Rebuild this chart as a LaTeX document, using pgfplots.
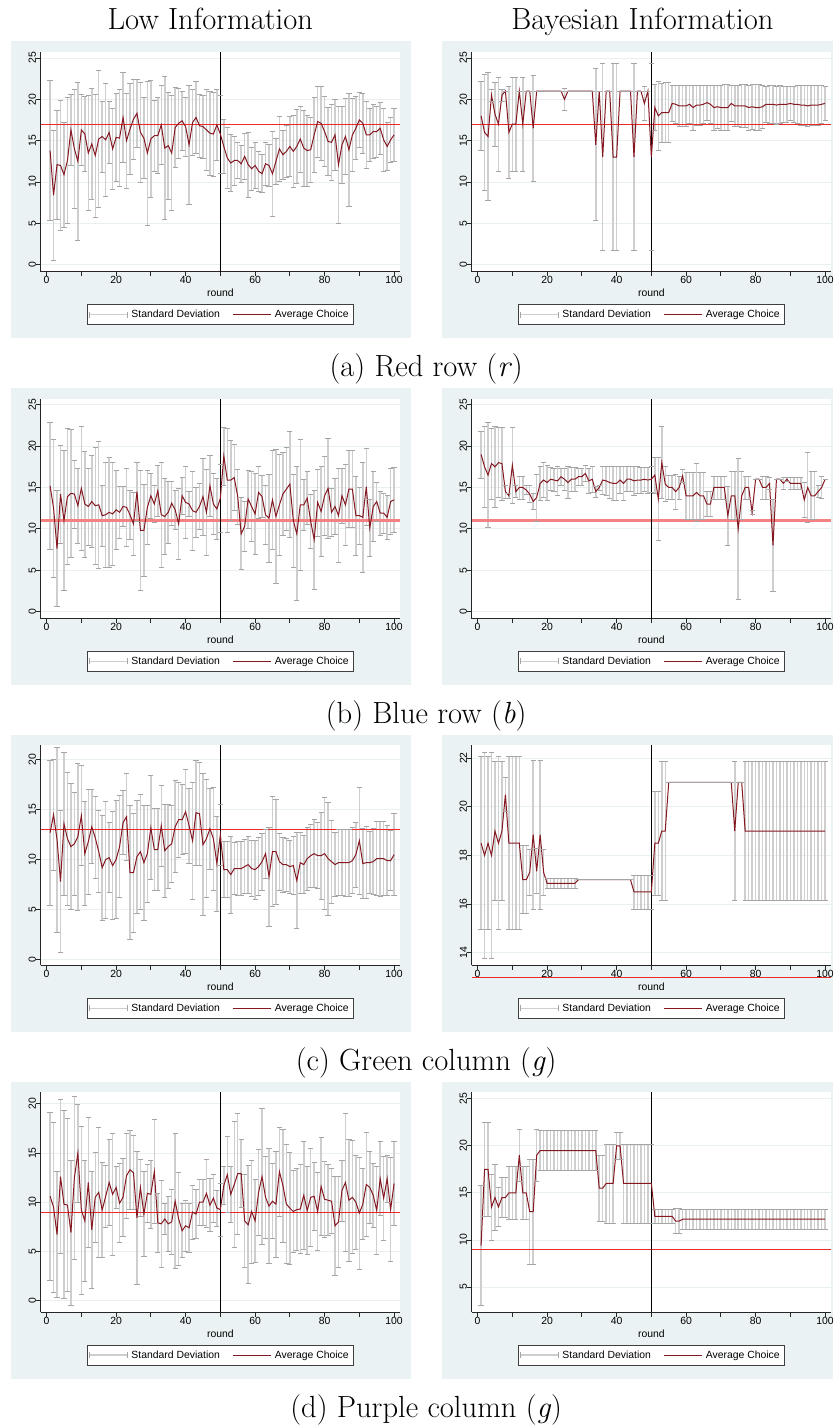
\documentclass[border=0pt]{standalone}
\usepackage{fontspec}
\setmainfont{Latin Modern Roman}
\newfontfamily\sansf{Liberation Sans}
\usepackage{pgfplots}
\usepackage{pgfplotstable}
\pgfplotsset{compat=1.18}
\definecolor{panelbg}{RGB}{234,242,243}
\definecolor{gridc}{RGB}{232,240,242}
\definecolor{sdgray}{RGB}{206,206,206}
\definecolor{capgray}{RGB}{165,165,165}
\definecolor{refred}{RGB}{238,40,40}
\definecolor{refpink}{RGB}{244,130,130}
\definecolor{meanred}{RGB}{134,24,34}

\pgfplotstableread{
r m s
1 13.8 8.5
2 8.4 7.85
3 12.1 6.6
4 12.0 7.85
5 10.9 6.35
6 12.6 7.65
7 16.3 4.3
8 14.0 7.15
9 12.5 9.5
10 16.3 4.3
11 15.8 4.55
12 13.5 6.95
13 14.6 6.75
14 13.2 7.45
15 15.2 8.3
16 15.5 4.3
17 15.1 6.85
18 16.0 3.8
19 14.0 4.95
20 15.4 5.35
21 15.3 5.85
22 17.8 5.4
23 15.0 5.75
24 16.4 5.5
25 17.6 4.85
26 18.3 4.1
27 16.0 6.0
28 15.3 4.9
29 13.5 8.7
30 15.2 7.1
31 15.6 4.3
32 15.6 4.6
33 16.9 4.8
34 14.1 8.65
35 14.4 6.5
36 13.5 6.95
37 16.6 4.85
38 17.1 4.25
39 17.4 3.55
40 16.7 3.55
41 14.5 7.2
42 17.2 3.95
43 17.8 4.35
44 16.8 3.85
45 16.7 3.8
46 16.3 4.95
47 15.9 5.05
48 15.8 5.1
49 16.9 4.3
50 15.8 4.7
51 14.3 3.3
52 12.9 3.65
53 12.3 3.45
54 12.6 2.95
55 12.6 2.2
56 12.2 2.25
57 13.1 2.8
58 12.1 3.95
59 11.6 2.6
60 12.0 2.8
61 11.3 2.4
62 11.0 2.3
63 12.2 2.6
64 12.0 2.5
65 11.0 5.1
66 12.5 2.8
67 14.0 3.9
68 13.3 3.0
69 13.7 3.2
70 14.3 3.6
71 13.7 4.4
72 14.3 4.5
73 15.2 4.0
74 14.1 4.6
75 13.8 4.3
76 13.9 3.9
77 15.7 4.5
78 17.3 4.3
79 17.1 4.5
80 16.1 4.2
81 14.9 4.1
82 14.8 4.6
83 15.7 4.3
84 12.1 7.1
85 14.5 4.7
86 15.5 4.6
87 13.9 6.8
88 15.7 4.4
89 16.5 3.8
90 17.5 3.3
91 17.1 3.6
92 15.7 4.0
93 15.7 3.2
94 16.1 3.3
95 16.1 3.1
96 16.5 3.1
97 15.1 3.8
98 14.3 2.9
99 15.1 2.7
100 15.7 3.2
}\dataAL

\pgfplotstableread{
r m s
1 18.0 4.2
2 16.0 7.0
3 15.5 7.75
4 20.5 0.7
5 18.2 3.85
6 17.0 5.7
7 20.5 0.7
8 21.0 0
9 16.0 5.6
10 17.0 5.7
11 17.0 5.7
12 21.0 0
13 17.0 5.7
14 21.0 0
15 21.0 0
16 16.5 6.4
17 21 0
18 21 0
19 21 0
20 21 0
21 21 0
22 21 0
23 21 0
24 21 0
25 20.0 1.3
26 21 0
27 21 0
28 21 0
29 21 0
30 21 0
31 21 0
32 21 0
33 21 0
34 14.5 9.2
35 21 0
36 13.0 11.3
37 21 0
38 21 0
39 13.0 11.3
40 13.0 11.3
41 21 0
42 21 0
43 21 0
44 21 0
45 13.0 11.3
46 21 0
47 21 0
48 19.5 2.1
49 21 0
50 13.0 11.3
51 19.0 2.8
52 18.0 4.15
53 18.4 3.55
54 18.4 3.6
55 18.4 3.6
56 19.5 2.2
57 19.4 2.3
58 19.2 2.5
59 19.2 2.5
60 19.2 2.5
61 19.4 2.3
62 19.0 2.7
63 19.3 2.4
64 19.3 2.4
65 19.4 2.3
66 19.6 2.1
67 19.4 2.3
68 19.0 2.7
69 19.1 2.6
70 19.0 2.7
71 19.0 2.8
72 19.0 2.8
73 19.5 2.2
74 19.2 2.5
75 19.2 2.5
76 19.2 2.6
77 19.2 2.6
78 19.0 2.7
79 19.1 2.7
80 19.0 2.8
81 19.0 2.8
82 19.1 2.6
83 19.4 2.2
84 19.4 2.3
85 19.4 2.3
86 19.3 2.3
87 19.4 2.3
88 19.4 2.2
89 19.4 2.2
90 19.5 2.1
91 19.4 2.2
92 19.4 2.3
93 19.3 2.4
94 19.3 2.4
95 19.2 2.5
96 19.3 2.4
97 19.3 2.4
98 19.3 2.4
99 19.4 2.3
100 19.5 2.1
}\dataAR

\pgfplotstableread{
r m s
1 15.2 7.65
2 12.5 8.35
3 7.6 7.0
4 14.2 5.95
5 11.0 8.5
6 13.9 8.25
7 14.3 7.75
8 14.2 4.1
9 12.8 4.5
10 14.9 7.5
11 13.0 6.4
12 12.7 4.65
13 13.3 5.6
14 12.8 7.1
15 12.9 7.7
16 11.6 3.7
17 11.7 6.4
18 12.0 6.7
19 11.8 6.25
20 12.3 4.75
21 12.0 3.1
22 12.7 2.45
23 12.6 4.75
24 11.7 2.95
25 10.6 3.8
26 14.5 3.55
27 9.8 7.25
28 9.8 5.6
29 12.6 4.45
30 14.0 2.7
31 13.0 2.2
32 14.6 3.05
33 11.7 6.4
34 11.5 4.55
35 12.0 3.75
36 13.1 2.7
37 12.3 2.4
38 10.6 4.3
39 14.0 2.2
40 13.2 4.4
41 13.0 1.5
42 12.2 4.8
43 12.0 3.05
44 12.7 2.75
45 13.9 4.65
46 12.0 5.25
47 15.2 3.65
48 13.0 3.7
49 12.4 3.7
50 13.7 4.1
51 18.8 3.5
52 15.9 6.3
53 15.9 4.85
54 16.2 4.0
55 13.9 3.35
56 9.4 4.35
57 10.3 3.05
58 13.6 3.5
59 12.7 4.25
60 11.8 4.9
61 14.4 3.15
62 13.9 2.55
63 11.7 3.6
64 11.3 5.35
65 13.5 6.0
66 11.5 8.1
67 12.9 6.1
68 14.2 5.0
69 14.8 5.0
70 15.4 6.45
71 11.0 5.6
72 9.4 8.1
73 12.9 7.9
74 12.9 3.05
75 13.7 3.2
76 10.9 3.25
77 8.7 6.0
78 13.2 4.05
79 12.1 5.45
80 14.0 4.75
81 14.9 6.0
82 12.0 2.9
83 12.7 3.4
84 11.6 5.7
85 14.0 3.3
86 12.9 4.9
87 14.8 4.65
88 14.8 4.65
89 11.6 4.75
90 11.6 3.45
91 11.4 6.7
92 15.1 4.65
93 10.1 3.45
94 12.7 4.2
95 13.3 2.35
96 11.9 2.65
97 11.9 2.45
98 11.4 2.7
99 13.3 4.0
100 13.5 3.95
}\dataBL

\pgfplotstableread{
r m s
1 19.0 2.85
2 17.5 4.95
3 16.5 6.35
4 17.9 4.3
5 17.5 4.95
6 18.0 4.25
7 17.9 4.4
8 14.5 0.8
9 14.0 0.3
10 17.7 4.6
11 14.5 0.7
12 15.0 1.4
13 15.0 1.4
14 14.7 0.5
15 14.2 1.0
16 13.3 1.0
17 13.8 2.85
18 15.5 2.1
19 15.9 2.1
20 15.6 2.1
21 16.0 1.4
22 15.9 1.4
23 15.8 1.7
24 16.3 1.0
25 16.0 1.35
26 15.6 1.95
27 16.0 1.45
28 16.0 1.45
29 16.3 1.05
30 16.3 1.0
31 16.7 0.95
32 15.8 1.55
33 16.0 1.6
34 14.5 0.65
35 15.0 0.3
36 15.9 1.7
37 15.8 1.8
38 15.6 1.95
39 15.5 2.1
40 15.5 2.1
41 15.9 1.65
42 15.5 2.1
43 16.0 1.5
44 16.0 1.5
45 15.8 1.7
46 15.9 1.65
47 15.9 1.55
48 16.0 1.45
49 15.9 1.55
50 16.0 1.6
51 16.5 2.15
52 13.6 5.05
53 18.0 4.35
54 15.4 2.1
55 15.0 1.45
56 15.0 1.45
57 14.5 2.1
58 15.0 1.4
59 16.4 0.8
60 14.0 2.85
61 14.0 2.85
62 14.0 2.8
63 14.4 3.55
64 14.0 2.8
65 14.0 2.8
66 13.0 1.5
67 13.0 1.5
68 15.0 1.4
69 15.0 1.4
70 15.0 1.4
71 15.0 1.4
72 11.6 3.55
73 14.0 2.9
74 14.0 2.9
75 10.0 8.5
76 14.0 2.9
77 15.0 1.4
78 15.0 1.4
79 12.0 0.25
80 16.0 0
81 16.0 0
82 15.0 1.4
83 15.0 1.4
84 15.5 0.7
85 8.0 5.6
86 16.0 0
87 16.0 0
88 15.5 0.7
89 16.0 0.2
90 15.5 0.7
91 15.5 0.7
92 15.5 0.7
93 15.5 0.7
94 13.5 2.1
95 15.0 4.25
96 14.0 2.9
97 14.0 2.9
98 14.5 0.75
99 15.0 1.35
100 16.0 0
}\dataBR

\pgfplotstableread{
r m s
1 12.7 7.3
2 14.5 5.55
3 12.0 9.25
4 7.8 7.1
5 13.6 7.2
6 12.1 6.65
7 11.3 6.3
8 11.6 5.15
9 12.3 7.35
10 14.4 5.0
11 10.6 5.2
12 11.8 5.25
13 13.3 3.7
14 12.2 4.1
15 10.8 4.1
16 9.2 5.25
17 10.0 5.85
18 10.2 3.5
19 9.4 5.4
20 10.0 5.9
21 11.3 5.1
22 13.7 3.2
23 14.3 4.35
24 8.7 6.7
25 8.7 5.95
26 10.3 5.65
27 10.8 5.75
28 9.7 5.75
29 10.6 4.85
30 13.2 5.2
31 11.0 4.1
32 11.0 4.1
33 13.4 4.05
34 10.9 4.65
35 11.3 4.2
36 11.6 3.85
37 13.3 4.6
38 14.0 3.75
39 14.0 3.5
40 14.8 4.2
41 13.4 3.75
42 11.9 5.85
43 14.7 5.25
44 14.6 5.2
45 11.5 7.1
46 12.1 5.9
47 13.1 4.05
48 12.1 5.15
49 9.6 4.75
50 12.5 3.05
51 9.0 2.8
52 9.0 2.8
53 8.5 3.85
54 9.1 2.6
55 9.1 2.7
56 9.1 2.7
57 9.3 2.7
58 9.5 2.85
59 9.1 2.8
60 9.0 2.95
61 9.3 2.9
62 9.8 2.85
63 10.6 2.45
64 8.3 4.95
65 10.8 5.5
66 10.8 5.25
67 9.8 2.85
68 9.5 2.75
69 9.5 2.65
70 9.3 2.65
71 9.4 2.9
72 7.9 4.8
73 9.7 3.05
74 9.5 2.9
75 10.1 3.15
76 10.4 3.15
77 10.6 3.4
78 10.4 3.3
79 10.4 4.35
80 10.6 5.6
81 10.1 5.65
82 9.8 4.15
83 9.5 3.2
84 9.7 3.3
85 9.7 3.3
86 9.7 3.35
87 9.7 3.35
88 9.9 3.3
89 10.5 3.25
90 11.9 5.35
91 9.6 3.5
92 9.7 3.6
93 9.7 3.1
94 9.8 3.3
95 10.1 3.7
96 10.1 3.75
97 10.1 3.7
98 9.9 3.5
99 9.9 3.0
100 10.5 4.1
}\dataCL

\pgfplotstableread{
r m s
1 18.5 3.55
2 18.0 4.25
3 18.5 3.55
4 18.0 4.25
5 19.0 2.85
6 18.5 3.55
7 19.0 2.85
8 20.5 0.7
9 18.5 3.55
10 18.5 3.55
11 18.5 3.55
12 18.5 3.55
13 17.0 1.4
14 17.0 1.4
15 17.3 0.93
16 18.85 3.05
17 17.35 0.93
18 18.85 3.05
19 17.3 0.93
20 16.85 0.2
21 16.85 0.2
22 16.85 0.2
23 16.85 0.2
24 16.85 0.2
25 16.85 0.2
26 16.85 0.2
27 16.85 0.2
28 16.85 0.2
29 17 0
30 17 0
31 17 0
32 17 0
33 17 0
34 17 0
35 17 0
36 17 0
37 17 0
38 17 0
39 17 0
40 17 0
41 17 0
42 17 0
43 17 0
44 17 0
45 16.5 0.7
46 16.5 0.7
47 16.5 0.7
48 16.5 0.7
49 16.5 0.7
50 16.5 0.7
51 18.5 2.15
52 18.5 2.15
53 19.0 2.85
54 19.0 2.85
55 21 0
56 21 0
57 21 0
58 21 0
59 21 0
60 21 0
61 21 0
62 21 0
63 21 0
64 21 0
65 21 0
66 21 0
67 21 0
68 21 0
69 21 0
70 21 0
71 21 0
72 21 0
73 21 0
74 19.0 2.85
75 21 0
76 21 0
77 19 2.85
78 19 2.85
79 19 2.85
80 19 2.85
81 19 2.85
82 19 2.85
83 19 2.85
84 19 2.85
85 19 2.85
86 19 2.85
87 19 2.85
88 19 2.85
89 19 2.85
90 19 2.85
91 19 2.85
92 19 2.85
93 19 2.85
94 19 2.85
95 19 2.85
96 19 2.85
97 19 2.85
98 19 2.85
99 19 2.85
100 19 2.85
}\dataCR

\pgfplotstableread{
r m s
1 10.6 8.5
2 9.5 8.65
3 6.7 6.4
4 12.6 7.85
5 9.8 9.55
6 9.7 8.8
7 6.9 7.4
8 12.5 8.3
9 15.0 5.0
10 9.2 8.55
11 8.1 6.15
12 12.0 6.6
13 7.2 5.95
14 10.5 4.6
15 11.0 6.6
16 9.2 4.85
17 10.6 3.15
18 12.0 4.35
19 10.8 6.2
20 11.5 2.15
21 9.9 4.0
22 10.5 4.0
23 12.7 4.3
24 13.3 4.05
25 13.0 3.75
26 8.4 6.8
27 11.5 2.9
28 8.8 4.3
29 10.9 2.95
30 10.8 3.45
31 13.1 5.3
32 7.9 3.05
33 7.8 4.45
34 8.3 1.55
35 7.8 2.75
36 8.0 3.35
37 10.1 6.85
38 8.3 4.75
39 7.1 2.75
40 7.6 2.55
41 7.4 2.45
42 9.0 2.75
43 8.8 2.5
44 10.0 2.35
45 10.0 2.35
46 10.9 3.5
47 9.7 2.7
48 10.4 2.4
49 9.4 1.85
50 9.25 2.7
51 11.7 1.9
52 12.8 3.85
53 10.8 2.85
54 11.8 6.4
55 12.9 6.15
56 12.9 3.45
57 8.1 4.75
58 7.7 6.0
59 9.05 5.25
60 8.1 4.25
61 11.0 4.4
62 12.6 6.9
63 10.5 4.15
64 9.6 5.85
65 10.1 3.8
66 9.8 5.4
67 13.1 4.55
68 11.7 5.75
69 9.8 6.05
70 9.4 5.7
71 9.05 4.2
72 9.25 4.15
73 9.3 4.5
74 10.7 5.45
75 9.15 4.45
76 10.5 4.95
77 10.6 3.5
78 9.05 3.95
79 11.6 5.0
80 10.3 3.9
81 10.2 3.6
82 10.1 3.3
83 7.6 5.05
84 8.0 4.65
85 11.2 3.1
86 12.0 7.0
87 10.2 6.2
88 10.5 5.75
89 10.0 4.8
90 8.9 5.7
91 9.8 3.6
92 11.8 5.3
93 11.5 3.65
94 10.7 3.25
95 9.15 4.5
96 12.4 3.75
97 10.4 4.25
98 12.4 2.4
99 9.25 5.3
100 11.9 4.3
}\dataDL

\pgfplotstableread{
r m s
1 9.4 6.35
2 17.5 4.95
3 17.5 4.95
4 13.5 3.5
5 14.5 3.5
6 13.5 2.1
7 14.5 2.15
8 14.5 2.15
9 15.0 2.8
10 15.0 2.8
11 15.0 2.8
12 19.0 2.8
13 15.0 2.8
14 15.0 2.8
15 13.0 5.6
16 13.0 5.6
17 19.0 2.8
18 19.5 2.1
19 19.5 2.1
20 19.5 2.1
21 19.5 2.1
22 19.5 2.1
23 19.5 2.1
24 19.5 2.1
25 19.5 2.1
26 19.5 2.1
27 19.5 2.1
28 19.5 2.1
29 19.5 2.1
30 19.5 2.1
31 19.5 2.1
32 19.5 2.1
33 19.5 2.1
34 19.5 2.1
35 15.5 3.5
36 15.5 3.5
37 16.0 4.2
38 16.0 4.2
39 16.0 4.2
40 20.0 1.4
41 20.0 1.4
42 16.0 4.2
43 16.0 4.2
44 16.0 4.2
45 16.0 4.2
46 16.0 4.2
47 16.0 4.2
48 16.0 4.2
49 16.0 4.2
50 16.0 4.2
51 12.5 0.7
52 12.5 0.7
53 12.5 0.7
54 12.5 0.7
55 12.5 0.7
56 12.5 0.7
57 12.0 1.35
58 12.0 1.35
59 12.2 1.05
60 12.2 1.05
61 12.2 1.05
62 12.2 1.05
63 12.2 1.05
64 12.2 1.05
65 12.2 1.05
66 12.2 1.05
67 12.2 1.05
68 12.2 1.05
69 12.2 1.05
70 12.2 1.05
71 12.2 1.05
72 12.2 1.05
73 12.2 1.05
74 12.2 1.05
75 12.2 1.05
76 12.2 1.05
77 12.2 1.05
78 12.2 1.05
79 12.2 1.05
80 12.2 1.05
81 12.2 1.05
82 12.2 1.05
83 12.2 1.05
84 12.2 1.05
85 12.2 1.05
86 12.2 1.05
87 12.2 1.05
88 12.2 1.05
89 12.2 1.05
90 12.2 1.05
91 12.2 1.05
92 12.2 1.05
93 12.2 1.05
94 12.2 1.05
95 12.2 1.05
96 12.2 1.05
97 12.2 1.05
98 12.2 1.05
99 12.2 1.05
100 12.2 1.05
}\dataDR

\newcommand{\stsf}{\sansf\fontsize{10.4}{12}\selectfont}
\newcommand{\capf}{\fontsize{30.6}{36}\selectfont}

\pgfplotsset{
  stpanel/.style={
    scale only axis, width=359.3pt, height=220pt,
    xmin=-1.7, xmax=101.7,
    axis lines*=left,
    axis line style={-, line width=0.8pt, draw=black!85},
    axis background/.style={fill=white},
    xtick={0,20,...,100}, minor xtick={10,30,...,90},
    tick align=outside, major tick length=4.5pt, minor tick length=4.5pt,
    every tick/.style={line width=0.8pt, draw=black!85},
    ymajorgrids, grid style={line width=0.8pt, draw=gridc},
    ticklabel style={font=\stsf},
    /pgf/number format/assume math mode=true,
    yticklabel style={rotate=90, anchor=south, inner sep=0pt},
    xticklabel style={anchor=north, inner sep=0pt},
    xlabel={round},
    every axis x label/.style={at={(axis description cs:0.5,-0.0786)}, anchor=north, inner sep=0pt, font=\stsf},
    legend columns=2,
    legend cell align=left,
    legend style={at={(0.5,-0.148)}, anchor=north, draw=black!75, line width=0.6pt, fill=white,
      font=\stsf, inner xsep=1.5pt, inner ysep=3.5pt,
      nodes={inner xsep=3pt, inner ysep=2pt},
      /tikz/every even column/.append style={column sep=10pt}},
  },
  sdplot/.style={draw=none, mark=none,
    legend image code/.code={
      \draw[draw=sdgray, line width=1.5pt] (0pt,0pt) -- (38pt,0pt);
      \draw[draw=capgray, line width=0.7pt] (0pt,-3pt) -- (0pt,3pt) (38pt,-3pt) -- (38pt,3pt);},
    error bars/.cd, y dir=both, y explicit, error mark=none,
    error bar style={draw=sdgray, line width=1.5pt}},
  capplot/.style={forget plot, draw=capgray, only marks, mark=-, mark size=2.6pt,
    mark options={draw=capgray, line width=0.7pt}},
  meanplot/.style={draw=meanred, line width=1pt, mark=none,
    legend image code/.code={
      \draw[draw=meanred, line width=1pt] (0pt,0pt) -- (38pt,0pt);
      \draw[draw=meanred, line width=1pt] (0pt,0pt) -- (38pt,0pt);}},
  refplot/.style={forget plot, draw=refred, line width=0.9pt, mark=none},
  vplot/.style={forget plot, draw=black, line width=0.9pt, mark=none},
}

% one panel: #1 table, #2 reference value, #3 ymin, #4 ymax, #5 ref style
\newcommand{\panel}[5]{%
\addplot[sdplot] table[x=r,y=m,y error=s] {#1};
\addlegendentry{Standard Deviation}
\addplot[capplot] table[x=r,y expr=\thisrow{m}+\thisrow{s}] {#1};
\addplot[capplot] table[x=r,y expr=\thisrow{m}-\thisrow{s}] {#1};
\addplot[refplot, #5] coordinates {(-1.7,#2) (101.7,#2)};
\addplot[vplot] coordinates {(50,#3) (50,#4)};
\addplot[meanplot] table[x=r,y=m] {#1};
\addlegendentry{Average Choice}
}

\begin{document}
\begin{tikzpicture}
\useasboundingbox (0,0) rectangle (833pt,1426pt);
\path[fill=white] (0,0) rectangle (833pt,1426pt);
% panel backgrounds
\foreach \k in {0,1,2,3}{
  \path[fill=panelbg] (11pt,{1385pt-\k*346.85pt}) rectangle (410.7pt,{1087.7pt-\k*346.85pt});
  \path[fill=panelbg] (442.3pt,{1385pt-\k*346.85pt}) rectangle (833pt,{1087.7pt-\k*346.85pt});
}
% titles
\node[anchor=base, font=\capf] at (210.3pt,1396pt) {Low Information};
\node[anchor=base, font=\capf] at (642.5pt,1396pt) {Bayesian Information};
% captions
\node[anchor=base, font=\capf] at (426.2pt,1049.3pt) {(a) Red row (\textit{r})};
\node[anchor=base, font=\capf] at (426.2pt,702.45pt) {(b) Blue row (\textit{b})};
\node[anchor=base, font=\capf] at (426.2pt,355.6pt) {(c) Green column (\textit{g})};
\node[anchor=base, font=\capf] at (426.2pt,8.75pt) {(d) Purple column (\textit{g})};

% ---------- Row a ----------
\begin{axis}[stpanel, at={(40.7pt,1154.3pt)}, anchor=south west,
  ymin=-0.85, ymax=25.76, ytick={0,5,...,25}]
\panel{\dataAL}{17}{-0.85}{25.76}{}
\end{axis}
\begin{axis}[stpanel, at={(471.7pt,1154.3pt)}, anchor=south west,
  ymin=-0.85, ymax=25.76, ytick={0,5,...,25}]
\panel{\dataAR}{17}{-0.85}{25.76}{}
\end{axis}

% ---------- Row b ----------
\begin{axis}[stpanel, at={(40.7pt,807.45pt)}, anchor=south west,
  ymin=-0.85, ymax=25.76, ytick={0,5,...,25}]
\panel{\dataBL}{11}{-0.85}{25.76}{draw=refpink, line width=2.6pt}
\end{axis}
\begin{axis}[stpanel, at={(471.7pt,807.45pt)}, anchor=south west,
  ymin=-0.85, ymax=25.76, ytick={0,5,...,25}]
\panel{\dataBR}{11}{-0.85}{25.76}{draw=refpink, line width=2.6pt}
\end{axis}

% ---------- Row c ----------
\begin{axis}[stpanel, at={(40.7pt,460.6pt)}, anchor=south west,
  ymin=-0.6, ymax=21.45, ytick={0,5,...,20}]
\panel{\dataCL}{13}{-0.6}{21.45}{}
\end{axis}
\begin{axis}[stpanel, at={(471.7pt,460.6pt)}, anchor=south west, clip=false,
  ymin=13.48, ymax=22.52, ytick={14,16,...,22}]
\panel{\dataCR}{13}{13.48}{22.52}{}
\end{axis}

% ---------- Row d ----------
\begin{axis}[stpanel, at={(40.7pt,113.75pt)}, anchor=south west,
  ymin=-1.19, ymax=21.18, ytick={0,5,...,20}]
\panel{\dataDL}{9}{-1.19}{21.18}{}
\end{axis}
\begin{axis}[stpanel, at={(471.7pt,113.75pt)}, anchor=south west,
  ymin=2.31, ymax=25.7, ytick={5,10,...,25}]
\panel{\dataDR}{9}{2.31}{25.7}{}
\end{axis}
\end{tikzpicture}
\end{document}
